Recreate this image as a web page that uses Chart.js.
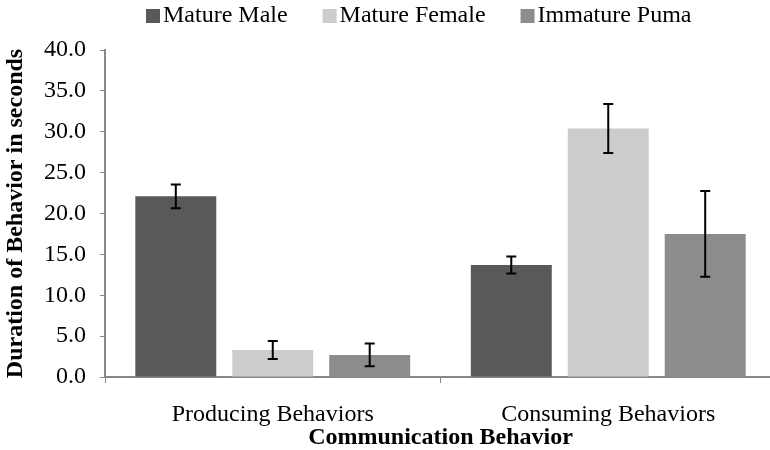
<!DOCTYPE html>
<html>
<head>
    <meta charset="UTF-8">
    <title>Communication Behavior</title>
    <script src="https://cdn.jsdelivr.net/npm/chart.js@4.4.0/dist/chart.umd.min.js"></script>
    <style>
        body { margin: 0; overflow: hidden; background: #fff; }
        #wrap { width: 780px; height: 450px; }
    </style>
</head>
<body>

<div id="wrap">
    <canvas id="durationChart" width="780" height="450"></canvas>
</div>

<script>
    // categories and series
    var categories = ['Producing Behaviors', 'Consuming Behaviors'];
    var seriesNames = ['Mature Male', 'Mature Female', 'Immature Puma'];
    var matureMale = [22.1, 13.7];
    var matureFemale = [3.3, 30.4];
    var immaturePuma = [2.7, 17.5];
    // error bar half widths
    var maleErr = [1.45, 1.05];
    var femaleErr = [1.1, 3.0];
    var immatureErr = [1.4, 5.25];
    var yTicks = [0, 5, 10, 15, 20, 25, 30, 35, 40];

    var colors = ['#595959', '#cccccc', '#8c8c8c'];
    var serif = "'Liberation Serif', 'Times New Roman', serif";

    // error bars drawn through the y scale
    var errorBars = {
        id: 'errorBars',
        afterDatasetsDraw: function (chart) {
            var ctx = chart.ctx;
            var y = chart.scales.y;
            ctx.save();
            ctx.strokeStyle = '#000';
            ctx.lineWidth = 2;
            chart.data.datasets.forEach(function (ds, i) {
                var meta = chart.getDatasetMeta(i);
                meta.data.forEach(function (bar, j) {
                    var v = ds.data[j], e = ds.err[j];
                    var top = y.getPixelForValue(v + e);
                    var bot = y.getPixelForValue(v - e);
                    ctx.beginPath();
                    ctx.moveTo(bar.x, top); ctx.lineTo(bar.x, bot);
                    ctx.moveTo(bar.x - 5, top); ctx.lineTo(bar.x + 5, top);
                    ctx.moveTo(bar.x - 5, bot); ctx.lineTo(bar.x + 5, bot);
                    ctx.stroke();
                });
            });
            ctx.restore();
        }
    };

    // small legend like the spreadsheet one: square, tight gap, label
    var topLegend = {
        id: 'topLegend',
        afterDraw: function (chart) {
            var ctx = chart.ctx;
            ctx.save();
            ctx.font = '24px ' + serif;
            ctx.textBaseline = 'middle';
            ctx.fillStyle = '#000';
            var x = 146, yMid = 16;
            chart.data.datasets.forEach(function (ds) {
                ctx.fillStyle = ds.backgroundColor;
                ctx.fillRect(x, yMid - 7, 14, 14);
                ctx.fillStyle = '#000';
                ctx.fillText(ds.label, x + 17, yMid);
                x += 17 + ctx.measureText(ds.label).width + 35;
            });
            ctx.restore();
        }
    };

    var ctx = document.getElementById('durationChart').getContext('2d');
    new Chart(ctx, {
        type: 'bar',
        data: {
            labels: categories,
            datasets: [
                { label: seriesNames[0], data: matureMale, err: maleErr, backgroundColor: colors[0] },
                { label: seriesNames[1], data: matureFemale, err: femaleErr, backgroundColor: colors[1] },
                { label: seriesNames[2], data: immaturePuma, err: immatureErr, backgroundColor: colors[2] }
            ]
        },
        options: {
            responsive: false,
            animation: false,
            categoryPercentage: 0.867,
            barPercentage: 0.835,
            layout: { padding: { top: 50, left: 0, right: 4, bottom: 0 } },
            plugins: {
                tooltip: { enabled: false },
                legend: { display: false }
            },
            scales: {
                x: {
                    afterFit: function (s) { s.height = 73; },
                    grid: {
                        offset: true, drawOnChartArea: false, drawTicks: true,
                        tickLength: 6, color: '#888', lineWidth: 1
                    },
                    border: { color: '#888', width: 2 },
                    ticks: { color: '#000', padding: 17, font: { family: serif, size: 24 } },
                    title: {
                        display: true, text: 'Communication Behavior', color: '#000',
                        padding: { top: 0, bottom: -2 },
                        font: { family: serif, size: 24, weight: 'bold' }
                    }
                },
                y: {
                    min: 0, max: 40,
                    afterFit: function (s) { s.width = 105; },
                    afterBuildTicks: function (s) {
                        s.ticks = yTicks.map(function (v) { return { value: v }; });
                    },
                    grid: {
                        drawOnChartArea: false, drawTicks: true,
                        tickLength: 5, color: '#888'
                    },
                    border: { color: '#888', width: 2 },
                    ticks: {
                        color: '#000', padding: 14,
                        font: { family: serif, size: 24 },
                        callback: function (v) { return Number(v).toFixed(1); }
                    },
                    title: {
                        display: true, text: 'Duration of Behavior in seconds', color: '#000',
                        padding: { top: 1, bottom: 0 },
                        font: { family: serif, size: 24, weight: 'bold' }
                    }
                }
            }
        },
        plugins: [errorBars, topLegend]
    });
</script>

</body>
</html>
